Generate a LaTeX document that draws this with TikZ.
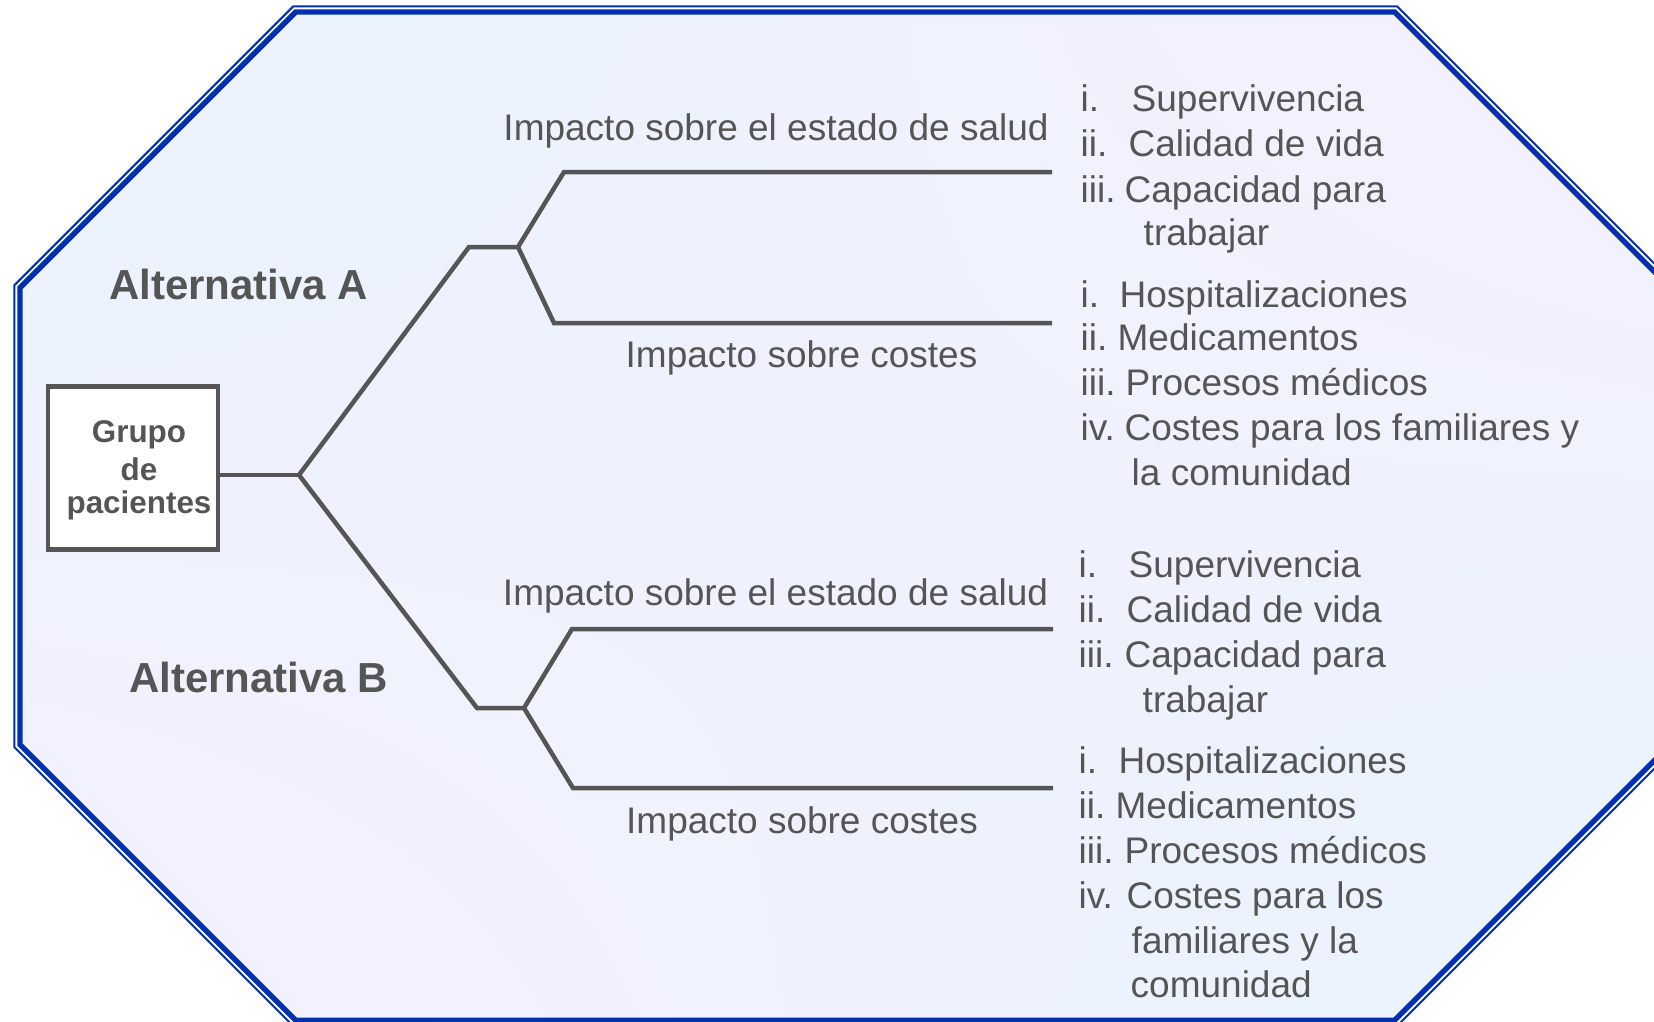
\documentclass[tikz,border=0pt]{standalone}
\usepackage{fontspec}
\setmainfont{Liberation Sans}
\usetikzlibrary{shadings}
\definecolor{txt}{RGB}{85,85,85}
\definecolor{ln}{RGB}{85,85,85}
\definecolor{framecol}{RGB}{0,48,176}
\definecolor{bgA}{RGB}{232,244,254}
\definecolor{bgB}{RGB}{246,240,254}
\newcommand\itm[3]{\makebox[#1pt][l]{#2}#3}
\begin{document}
\begin{tikzpicture}[x=1pt,y=-1pt,
  lab/.style={anchor=base, inner sep=0pt, text=txt, font=\fontsize{37}{44}\selectfont},
  item/.style={anchor=base west, inner sep=0pt, text=txt, font=\fontsize{37}{44}\selectfont},
  alt/.style={anchor=base west, inner sep=0pt, text=txt, font=\fontsize{42}{50}\selectfont\bfseries},
  branch/.style={draw=ln, line width=4.5pt, line join=miter},
  thinframe/.style={draw=framecol, line width=2pt, line join=miter},
  thickframe/.style={draw=framecol, line width=5.4pt, line join=miter},
]
\clip (0,0) rectangle (1654,1022);
\fill[white] (0,0) rectangle (1654,1022);
% octagon background
\shade[upper left=bgA, upper right=bgB, lower left=bgB, lower right=bgA]
  (295.7,12) -- (1394.6,12) -- (1670.3,287.7) -- (1670.3,744.6) -- (1394.6,1020.3) -- (295.7,1020.3) -- (20,744.6) -- (20,287.7) -- cycle;
\draw[thickframe]
  (295.7,12) -- (1394.6,12) -- (1670.3,287.7) -- (1670.3,744.6) -- (1394.6,1020.3) -- (295.7,1020.3) -- (20,744.6) -- (20,287.7) -- cycle;
\draw[thinframe]
  (293.3,6.3) -- (1397,6.3) -- (1676,285.3) -- (1676,747) -- (1397,1026) -- (293.3,1026) -- (14.3,747) -- (14.3,285.3) -- cycle;

% box
\node[draw=ln, line width=4.7pt, fill=white, minimum width=170pt, minimum height=163pt, inner sep=0pt] (grupo) at (133,468) {};
\node[align=center, inner sep=0pt, text=txt, font=\fontsize{31.4}{35}\selectfont\bfseries] (grupotxt) at (139,470) {Grupo\\[3pt]de\\[-2.4pt]pacientes};

% tree coordinates
\coordinate (j0) at (299,475);
\coordinate (aKnee) at (469,247);
\coordinate (ja) at (518,247);
\coordinate (aHk) at (564,172);
\coordinate (aHend) at (1052,172);
\coordinate (aCk) at (554,323);
\coordinate (aCend) at (1052,323);
\coordinate (bKnee) at (477,708);
\coordinate (jb) at (524,708);
\coordinate (bHk) at (572,629);
\coordinate (bHend) at (1053,629);
\coordinate (bCk) at (573,788);
\coordinate (bCend) at (1053,788);

\draw[branch] (grupo.east |- j0) -- (j0);
\draw[branch] (j0) -- (aKnee) -- (ja);
\draw[branch] (ja) -- (aHk) -- (aHend);
\draw[branch] (ja) -- (aCk) -- (aCend);
\draw[branch] (j0) -- (bKnee) -- (jb);
\draw[branch] (jb) -- (bHk) -- (bHend);
\draw[branch] (jb) -- (bCk) -- (bCend);

% alternatives
\node[alt] (altA) at (109,299) {Alternativa A};
\node[alt] (altB) at (129,692) {Alternativa B};

% branch labels
\node[lab] (aH) at (776,141) {Impacto sobre el estado de salud};
\node[lab] (aC) at (801.5,367) {Impacto sobre costes};
\node[lab] (bH) at (775.5,605) {Impacto sobre el estado de salud};
\node[lab] (bC) at (802,833) {Impacto sobre costes};

% lists A
\node[item] (a1) at (1080.5,112) {\itm{51}{i.}{Supervivencia}};
\node[item] (a2) at (1080.5,157) {\itm{48}{ii.}{Calidad de vida}};
\node[item] (a3) at (1080.5,202) {\itm{44}{iii.}{Capacidad para}};
\node[item] (a4) at (1143.5,245) {trabajar};
\node[item] (a5) at (1080.5,307) {\itm{39}{i.}{Hospitalizaciones}};
\node[item] (a6) at (1080.5,350) {\itm{37}{ii.}{Medicamentos}};
\node[item] (a7) at (1080.5,395) {\itm{45}{iii.}{Procesos médicos}};
\node[item] (a8) at (1080.5,440) {\itm{44}{iv.}{Costes para los familiares y}};
\node[item] (a9) at (1131.5,485) {la comunidad};

% lists B
\node[item] (b1) at (1078.5,577) {\itm{50}{i.}{Supervivencia}};
\node[item] (b2) at (1078.5,622) {\itm{48}{ii.}{Calidad de vida}};
\node[item] (b3) at (1078.5,667) {\itm{46}{iii.}{Capacidad para}};
\node[item] (b4) at (1142.5,712) {trabajar};
\node[item] (b5) at (1078.5,773) {\itm{40}{i.}{Hospitalizaciones}};
\node[item] (b6) at (1078.5,818) {\itm{37}{ii.}{Medicamentos}};
\node[item] (b7) at (1078.5,863) {\itm{46}{iii.}{Procesos médicos}};
\node[item] (b8) at (1078.5,908) {\itm{48}{iv.}{Costes para los}};
\node[item] (b9) at (1131.5,953) {familiares y la};
\node[item] (b10) at (1130.5,997) {comunidad};
\end{tikzpicture}
\end{document}
